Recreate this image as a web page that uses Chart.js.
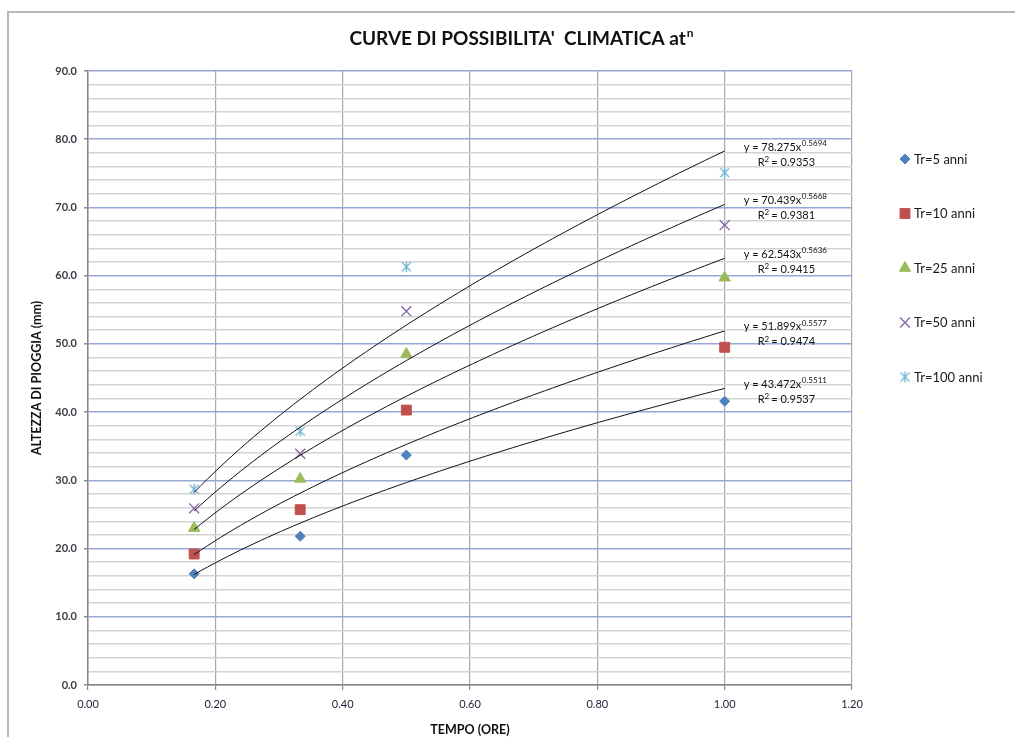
<!DOCTYPE html>
<html>
<head>
<meta charset="utf-8">
<title>Curve di possibilita' climatica</title>
<script src="https://cdn.jsdelivr.net/npm/chart.js@4.4.0/dist/chart.umd.min.js"></script>
<style>
  html, body { margin: 0; padding: 0; background: #fff; overflow: hidden; }
  #wrap { width: 1015px; height: 737px; }
</style>
</head>
<body>
<div id="wrap"><canvas id="chart" width="1015" height="737"></canvas></div>
<script>
// durate (ore) e altezze di pioggia (mm)
const tempi = [0.1667, 0.3333, 0.5, 1.0];
const serieNomi = ["Tr=5 anni", "Tr=10 anni", "Tr=25 anni", "Tr=50 anni", "Tr=100 anni"];
const tr5 = [16.3, 21.8, 33.7, 41.6];
const tr10 = [19.2, 25.7, 40.3, 49.5];
const tr25 = [23.0, 30.2, 48.5, 59.7];
const tr50 = [25.9, 33.9, 54.8, 67.4];
const tr100 = [28.7, 37.2, 61.3, 75.1];

// linee di tendenza y = a * x^n (coefficienti scritti sul grafico)
const trendA = [43.472, 51.899, 62.543, 70.439, 78.275];
const trendN = [0.5511, 0.5577, 0.5636, 0.5668, 0.5694];
const trendR2 = ["0.9537", "0.9474", "0.9415", "0.9381", "0.9353"];

const colori = ["#4F81BD", "#C0504D", "#9BBB59", "#8064A2", "#6FB3D0"];
const FONT = "Lato, 'Open Sans', sans-serif";

// marker "asterisco" stile Excel (X con barra verticale)
function starMarker(color) {
  const c = document.createElement("canvas");
  c.width = 13; c.height = 13;
  const g = c.getContext("2d");
  g.strokeStyle = color;
  g.lineWidth = 1.3;
  g.beginPath();
  g.moveTo(2, 2); g.lineTo(11, 11);
  g.moveTo(11, 2); g.lineTo(2, 11);
  g.moveTo(6.5, 1); g.lineTo(6.5, 12);
  g.stroke();
  return c;
}

const markers = [
  { style: "rectRot", radius: 5 },
  { style: "rect", radius: 7 },
  { style: "triangle", radius: 6.5 },
  { style: "crossRot", radius: 7 },
  { style: starMarker(colori[4]), radius: 6 },
];

function punti(values) {
  return tempi.map((t, i) => ({ x: t, y: values[i] }));
}

function curva(a, n) {
  const pts = [];
  const x0 = tempi[0], x1 = tempi[tempi.length - 1];
  for (let k = 0; k <= 80; k++) {
    const x = x0 + (x1 - x0) * k / 80;
    pts.push({ x: x, y: a * Math.pow(x, n) });
  }
  return pts;
}

const serie = [tr5, tr10, tr25, tr50, tr100];
const datasets = [];
serie.forEach((vals, i) => {
  datasets.push({
    label: serieNomi[i],
    data: punti(vals),
    showLine: false,
    pointStyle: markers[i].style,
    pointRadius: markers[i].radius,
    pointHoverRadius: markers[i].radius,
    backgroundColor: colori[i],
    borderColor: colori[i],
    pointBorderWidth: (i >= 3) ? 1.3 : 1,
    order: 2,
  });
});
trendA.forEach((a, i) => {
  datasets.push({
    label: "trend " + serieNomi[i],
    data: curva(a, trendN[i]),
    showLine: true,
    pointRadius: 0,
    borderColor: "#111",
    borderWidth: 1,
    tension: 0,
    order: 1,
  });
});

const bgPlugin = {
  id: "bg",
  beforeDraw(chart) {
    const ctx = chart.ctx;
    ctx.save();
    ctx.fillStyle = "#fff";
    ctx.fillRect(0, 0, chart.width, chart.height);
    // cornice del grafico: solo lato sinistro e superiore visibili
    ctx.strokeStyle = "#b7b7b7";
    ctx.lineWidth = 2;
    ctx.beginPath();
    ctx.moveTo(8, chart.height);
    ctx.lineTo(8, 12);
    ctx.lineTo(chart.width, 12);
    ctx.stroke();
    ctx.restore();
  }
};

const titlePlugin = {
  id: "titolo",
  afterDraw(chart) {
    const ctx = chart.ctx;
    const main = "CURVE DI POSSIBILITA'  CLIMATICA at";
    ctx.save();
    ctx.font = "bold 19px " + FONT;
    const w = ctx.measureText(main).width;
    ctx.font = "bold 12px " + FONT;
    const ws = ctx.measureText("n").width;
    const x0 = 521 - (w + ws) / 2;
    ctx.fillStyle = "#111";
    ctx.textBaseline = "alphabetic";
    ctx.font = "bold 19px " + FONT;
    ctx.fillText(main, x0, 45);
    ctx.font = "bold 12px " + FONT;
    ctx.fillText("n", x0 + w + 1, 37);
    ctx.restore();
  }
};

const eqPlugin = {
  id: "equazioni",
  afterDatasetsDraw(chart) {
    const ctx = chart.ctx;
    const xs = chart.scales.x, ys = chart.scales.y;
    const xEnd = tempi[tempi.length - 1];
    ctx.save();
    ctx.fillStyle = "#111";
    ctx.textBaseline = "middle";
    trendA.forEach((a, i) => {
      const px = xs.getPixelForValue(xEnd);
      const py = ys.getPixelForValue(a * Math.pow(xEnd, trendN[i]));
      const base = "y = " + a.toFixed(3) + "x";
      ctx.font = "11px " + FONT;
      const bw = ctx.measureText(base).width;
      ctx.fillText(base, px + 19, py - 4);
      ctx.font = "8px " + FONT;
      ctx.fillText(trendN[i].toFixed(4), px + 19 + bw + 0.5, py - 8);
      ctx.font = "11px " + FONT;
      const rw = ctx.measureText("R").width;
      ctx.fillText("R", px + 33, py + 11);
      ctx.font = "8px " + FONT;
      ctx.fillText("2", px + 33 + rw, py + 8);
      ctx.font = "11px " + FONT;
      ctx.fillText(" = " + trendR2[i], px + 33 + rw + 4, py + 11);
    });
    ctx.restore();
  }
};

const legendPlugin = {
  id: "legenda",
  afterDraw(chart) {
    const ctx = chart.ctx;
    const area = chart.chartArea;
    ctx.save();
    ctx.textBaseline = "middle";
    serieNomi.forEach((nome, i) => {
      const mx = area.right + 53;
      const my = area.top + 88 + i * 54.5;
      ctx.fillStyle = colori[i];
      ctx.strokeStyle = colori[i];
      ctx.lineWidth = (i >= 3) ? 1.3 : 1;
      Chart.helpers.drawPoint(ctx, {
        pointStyle: markers[i].style,
        radius: markers[i].radius,
        rotation: 0,
        borderWidth: ctx.lineWidth,
      }, mx, my);
      ctx.fillStyle = "#1a1a1a";
      ctx.font = "13px " + FONT;
      ctx.fillText(nome, mx + 9, my + 0.5);
    });
    ctx.restore();
  }
};

new Chart(document.getElementById("chart"), {
  type: "scatter",
  data: { datasets: datasets },
  options: {
    responsive: false,
    animation: false,
    devicePixelRatio: 1,
    layout: { padding: { left: 8, right: 163, top: 71, bottom: 0 } },
    plugins: {
      legend: { display: false },
      tooltip: { enabled: false },
      title: { display: false },
    },
    scales: {
      x: {
        type: "linear",
        min: 0,
        max: 1.2,
        ticks: {
          stepSize: 0.2,
          callback: (v) => v.toFixed(2),
          font: { family: FONT, size: 11 },
          color: "#1f1f33",
          padding: 8,
        },
        grid: {
          color: "#a8a8a8",
          lineWidth: 1.2,
          tickLength: 5,
          tickColor: "#8a8a8a",
        },
        border: { color: "#868686", width: 1.5 },
        title: {
          display: true,
          text: "TEMPO (ORE)",
          font: { family: FONT, size: 12.5, weight: "bold" },
          color: "#111",
          padding: { top: 0, bottom: 0 },
        },
        afterFit: (s) => { s.height = 52; },
      },
      y: {
        min: 0,
        max: 90,
        ticks: {
          stepSize: 2,
          autoSkip: false,
          callback: (v) => (Math.round(v) % 10 === 0 ? v.toFixed(1) : ""),
          font: { family: FONT, size: 11, weight: "bold" },
          color: "#3c3c46",
          padding: 7,
        },
        grid: {
          color: (c) => (Math.round(c.tick.value) % 10 === 0 ? "#98a8d6" : "#d3d3d3"),
          lineWidth: 1.5,
          tickLength: 4,
          tickColor: (c) => (Math.round(c.tick.value) % 10 === 0 ? "#8a8a8a" : "rgba(0,0,0,0)"),
        },
        border: { color: "#868686", width: 1.5 },
        title: {
          display: true,
          text: "ALTEZZA DI PIOGGIA (mm)",
          font: { family: FONT, size: 12.5, weight: "bold" },
          color: "#111",
          padding: { top: 21, bottom: 0 },
        },
        afterFit: (s) => { s.width = 80; },
      },
    },
  },
  plugins: [bgPlugin, eqPlugin, titlePlugin, legendPlugin],
});
</script>
</body>
</html>
